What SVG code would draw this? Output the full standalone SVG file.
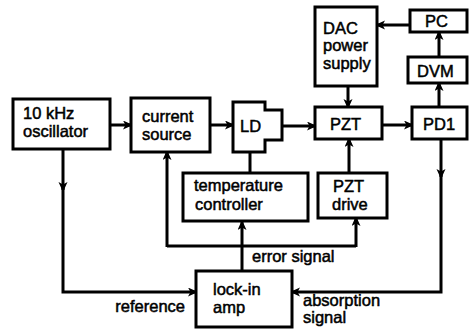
<svg xmlns="http://www.w3.org/2000/svg" width="475" height="330" viewBox="0 0 475 330">
<defs>
<style>
.box{fill:#fff;stroke:#000;stroke-width:3;stroke-linejoin:miter}
.t{font-family:"Liberation Sans",Arial,sans-serif;font-size:16.5px;fill:#000;stroke:#000;stroke-width:0.5}
.c{fill:none;stroke:#000;stroke-width:3}
.a{marker-end:url(#ah)}
</style>
<marker id="ah" markerUnits="userSpaceOnUse" markerWidth="11" markerHeight="10" refX="8" refY="4.5" orient="auto">
<path d="M0,0 L10,4.5 L0,9 L2.5,4.5 Z" fill="#000"/>
</marker>
</defs>
<rect width="475" height="330" fill="#fff"/>
<g id="connectors">
<path class="c a" d="M110,125 H131"/>
<path class="c a" d="M210,125 H233"/>
<path class="c a" d="M282,126 H315"/>
<path class="c a" d="M382,125 H412"/>
<path class="c a" d="M439,107 V83"/>
<path class="c a" d="M439,57 V32"/>
<path class="c a" d="M410,25 H377"/>
<path class="c a" d="M348,86 V107"/>
<path class="c a" d="M349,173 V139"/>
<path class="c" d="M250,152 V173"/>
<path class="c a" d="M63,149 V190"/>
<path class="c a" d="M63,188 V292 H196"/>
<path class="c a" d="M242,271 V222"/>
<path class="c" d="M167,246 H356"/>
<path class="c a" d="M167,247 V152"/>
<path class="c a" d="M356,247 V218"/>
<path class="c a" d="M441,139 V177"/>
<path class="c a" d="M441,175 V292 H292"/>
<text class="t" x="252" y="262">error signal</text>
<text class="t" x="185" y="312" text-anchor="end">reference</text>
<text class="t" x="303" y="306">absorption</text>
<text class="t" x="303" y="323">signal</text>
</g>
<g id="oscillator">
<rect class="box" x="13" y="99" width="97" height="50"/>
<text class="t" x="23" y="119">10 kHz</text>
<text class="t" x="23" y="137">oscillator</text>
</g>
<g id="current-source">
<rect class="box" x="131" y="98" width="79" height="54"/>
<text class="t" x="142" y="122">current</text>
<text class="t" x="142" y="140">source</text>
</g>
<g id="LD">
<path class="box" d="M233,102 H265 V110 H282 V140 H265 V152 H233 Z"/>
<text class="t" x="240" y="132">LD</text>
</g>
<g id="DAC">
<rect class="box" x="315" y="7" width="62" height="79"/>
<text class="t" x="323" y="34">DAC</text>
<text class="t" x="323" y="51">power</text>
<text class="t" x="323" y="69">supply</text>
</g>
<g id="PC">
<rect class="box" x="410" y="10" width="57" height="22"/>
<text class="t" x="425" y="27">PC</text>
</g>
<g id="DVM">
<rect class="box" x="408" y="57" width="59" height="26"/>
<text class="t" x="417" y="77">DVM</text>
</g>
<g id="PZT">
<rect class="box" x="315" y="107" width="67" height="32"/>
<text class="t" x="330" y="130">PZT</text>
</g>
<g id="PD1">
<rect class="box" x="412" y="107" width="55" height="32"/>
<text class="t" x="423" y="130">PD1</text>
</g>
<g id="temperature-controller">
<rect class="box" x="183" y="173" width="125" height="48"/>
<text class="t" x="194" y="191">temperature</text>
<text class="t" x="195" y="210">controller</text>
</g>
<g id="PZT-drive">
<rect class="box" x="318" y="173" width="69" height="45"/>
<text class="t" x="333" y="192">PZT</text>
<text class="t" x="332" y="210">drive</text>
</g>
<g id="lock-in">
<rect class="box" x="196" y="271" width="96" height="56"/>
<text class="t" x="213" y="295">lock-in</text>
<text class="t" x="213" y="313">amp</text>
</g>
</svg>
